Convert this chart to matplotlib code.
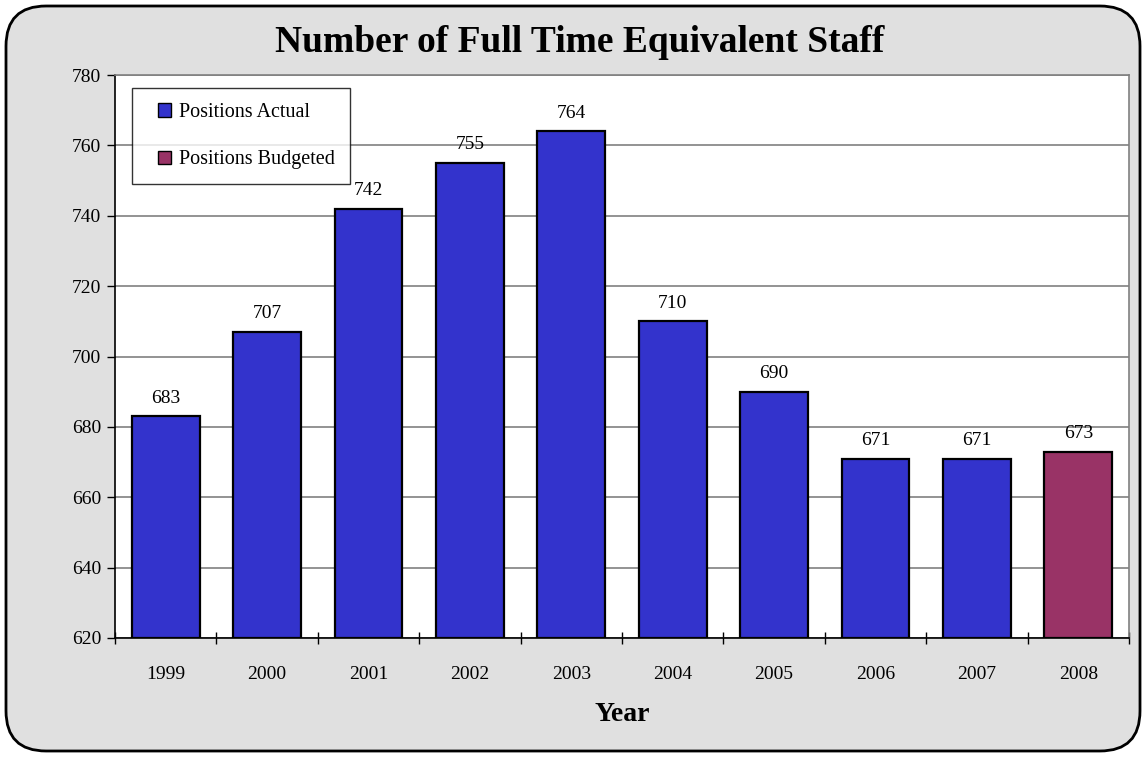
import matplotlib
matplotlib.use('Agg')
import matplotlib.pyplot as plt
from matplotlib.patches import FancyBboxPatch, Patch, Rectangle
from matplotlib.legend_handler import HandlerPatch
import numpy as np

# 数据
years = ['1999', '2000', '2001', '2002', '2003', '2004', '2005', '2006', '2007', '2008']
staff = [683, 707, 742, 755, 764, 710, 690, 671, 671, 673]
budgeted = [False, False, False, False, False, False, False, False, False, True]

blue = '#3333CC'
maroon = '#993366'

plt.rcParams['font.family'] = ['Liberation Serif', 'DejaVu Serif']

fig = plt.figure(figsize=(11.46, 7.57), dpi=100)
fig.patch.set_facecolor('white')

# 圆角灰色背景
bg = FancyBboxPatch((6 / 1146, 6 / 757), 1134 / 1146, 745 / 757,
                    boxstyle='round,pad=0,rounding_size=0.035',
                    transform=fig.transFigure, facecolor='#E0E0E0',
                    edgecolor='black', linewidth=2, mutation_aspect=1146 / 757,
                    zorder=-1)
fig.patches.append(bg)

ax = fig.add_axes([115 / 1146, 1 - 638 / 757, (1129 - 115) / 1146, (638 - 75) / 757])
ax.set_zorder(1)
ax.set_facecolor('white')

x = np.arange(len(years))
colors = [maroon if b else blue for b in budgeted]
bars = ax.bar(x, [v - 620 for v in staff], bottom=620, width=0.67,
              color=colors, edgecolor='black', linewidth=1.6, zorder=3)

# 柱子上方的数值
for xi, v in zip(x, staff):
    ax.annotate(str(v), (xi, v), xytext=(0, 7), textcoords='offset points',
                ha='center', va='bottom', fontsize=14, zorder=4)

ax.set_ylim(620, 780)
ax.set_yticks(np.arange(620, 781, 20))
ax.set_xlim(-0.5, len(years) - 0.5)
ax.yaxis.grid(True, color='#808080', linewidth=1.2, zorder=0)
ax.set_axisbelow(True)

ax.set_xticks(x)
ax.set_xticklabels(years)
ax.set_xticks(np.arange(-0.5, len(years), 1), minor=True)
ax.tick_params(axis='x', which='major', length=0, pad=20, labelsize=14)
ax.tick_params(axis='x', which='minor', length=8, direction='inout', width=1)
ax.tick_params(axis='y', length=6, width=1, labelsize=14, pad=4)

ax.spines['left'].set_color('black')
ax.spines['bottom'].set_color('black')
ax.spines['top'].set_color('#808080')
ax.spines['right'].set_color('#808080')
for s in ax.spines.values():
    s.set_linewidth(1.2)

ax.set_xlabel('Year', fontsize=20, fontweight='bold', labelpad=14)
fig.text(580 / 1146, 1 - 43 / 757, 'Number of Full Time Equivalent Staff',
         ha='center', va='center', fontsize=27, fontweight='bold')


# 图例方块画在句柄区域的右边
def make_square(legend, orig_handle, xdescent, ydescent, width, height, fontsize):
    return Rectangle((width - height - xdescent, -ydescent), height, height)


handles = [Patch(facecolor=blue, edgecolor='black'),
           Patch(facecolor=maroon, edgecolor='black')]
leg = ax.legend(handles, ['Positions Actual', 'Positions Budgeted'],
                loc='upper left', bbox_to_anchor=(17 / 1014, 1 - 13 / 563),
                fontsize=14.5, frameon=True, fancybox=False, edgecolor='black',
                labelspacing=1.4, handlelength=1.2, handleheight=0.65,
                handletextpad=0.4, borderpad=0.75, borderaxespad=0,
                handler_map={Patch: HandlerPatch(patch_func=make_square)})
leg.get_frame().set_linewidth(1)
leg.set_zorder(5)

fig.savefig('out.png', dpi=100, facecolor=fig.get_facecolor())
